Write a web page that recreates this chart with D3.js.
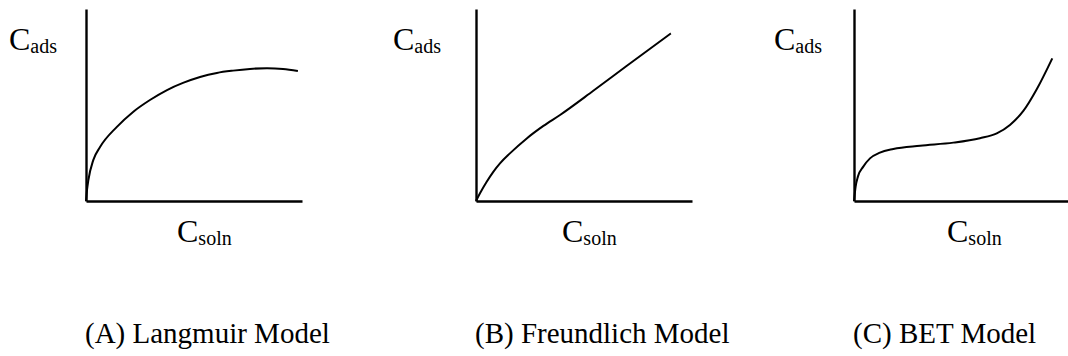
<!DOCTYPE html>
<html>
<head>
<meta charset="utf-8">
<script src="https://cdn.jsdelivr.net/npm/d3@7"></script>
<style>
  html, body { margin: 0; padding: 0; background: #fff; }
  svg { display: block; }
</style>
</head>
<body>
<div id="chart"></div>
<script>
// ---- Data (arbitrary units 0..10) ----
const panelTitles = ["(A) Langmuir Model", "(B) Freundlich Model", "(C) BET Model"];
const yLabelMain = "C", yLabelSub = "ads";
const xLabelMain = "C", xLabelSub = "soln";

const langmuirX = [0, 0.05, 0.11, 0.34, 0.65, 1.42, 2.18, 2.96, 3.75, 4.49, 5.28, 6.06, 6.81, 7.59, 8.38, 9.12, 9.81];
const langmuirY = [0, 0.60, 1.09, 2.14, 2.81, 3.85, 4.64, 5.26, 5.78, 6.15, 6.46, 6.67, 6.79, 6.88, 6.92, 6.88, 6.77];

const freundlichX = [0, 0.185, 0.495, 0.80, 1.11, 1.57, 2.35, 3.12, 3.89, 5.43, 6.97, 9.02];
const freundlichY = [0, 0.40, 1.00, 1.52, 1.96, 2.48, 3.26, 3.91, 4.48, 5.74, 7.03, 8.73];

const betX = [0, 0.074, 0.18, 0.43, 0.74, 1.20, 1.82, 3.06, 4.60, 5.83, 6.61, 7.22, 7.84, 8.46, 9.18];
const betY = [0, 0.74, 1.27, 1.79, 2.22, 2.52, 2.71, 2.88, 3.04, 3.27, 3.52, 3.96, 4.69, 5.82, 7.43];

const seriesX = [langmuirX, freundlichX, betX];
const seriesY = [langmuirY, freundlichY, betY];

// ---- Layout ----
const W = 1068, H = 356;
const FONT = '"Liberation Serif", "Times New Roman", serif';
const panels = [
  { x0: 86,  yLab: 9,   xLab: 177 },
  { x0: 476, yLab: 393, xLab: 562 },
  { x0: 854, yLab: 774, xLab: 947 }
];
const axisTop = 9, axisBottom = 201, axisLen = 216;

const svg = d3.select("#chart").append("svg")
  .attr("width", W).attr("height", H);

panels.forEach((p, i) => {
  const x = d3.scaleLinear().domain([0, 10]).range([p.x0, p.x0 + axisLen]);
  const y = d3.scaleLinear().domain([0, 10]).range([axisBottom, axisTop]);
  const g = svg.append("g");

  // axes (no ticks)
  g.append("g")
    .attr("transform", `translate(0,${axisBottom})`)
    .call(d3.axisBottom(x).tickValues([]).tickSizeOuter(0))
    .call(s => s.select(".domain").attr("stroke", "#000").attr("stroke-width", 2.4));
  g.append("g")
    .attr("transform", `translate(${p.x0},0)`)
    .call(d3.axisLeft(y).tickValues([]).tickSizeOuter(0))
    .call(s => s.select(".domain").attr("stroke", "#000").attr("stroke-width", 2.4));

  // curve
  const pts = seriesX[i].map((v, k) => [v, seriesY[i][k]]);
  const line = d3.line()
    .x(d => x(d[0])).y(d => y(d[1]))
    .curve(d3.curveMonotoneX);
  g.append("path")
    .attr("d", line(pts))
    .attr("fill", "none")
    .attr("stroke", "#000")
    .attr("stroke-width", 2);

  // y label C_ads
  const yl = g.append("text").attr("x", p.yLab).attr("y", 50)
    .style("font-family", FONT).style("fill", "#000");
  yl.append("tspan").style("font-size", "32px").text(yLabelMain);
  yl.append("tspan").style("font-size", "20px").attr("dy", 3).text(yLabelSub);

  // x label C_soln
  const xl = g.append("text").attr("x", p.xLab).attr("y", 242)
    .style("font-family", FONT).style("fill", "#000");
  xl.append("tspan").style("font-size", "32px").text(xLabelMain);
  xl.append("tspan").style("font-size", "20px").attr("dy", 3).text(xLabelSub);

  // caption
  g.append("text")
    .attr("x", p.x0 - 1).attr("y", 343)
    .style("font-family", FONT)
    .style("font-size", "29px")
    .style("fill", "#000")
    .text(panelTitles[i]);
});
</script>
</body>
</html>
